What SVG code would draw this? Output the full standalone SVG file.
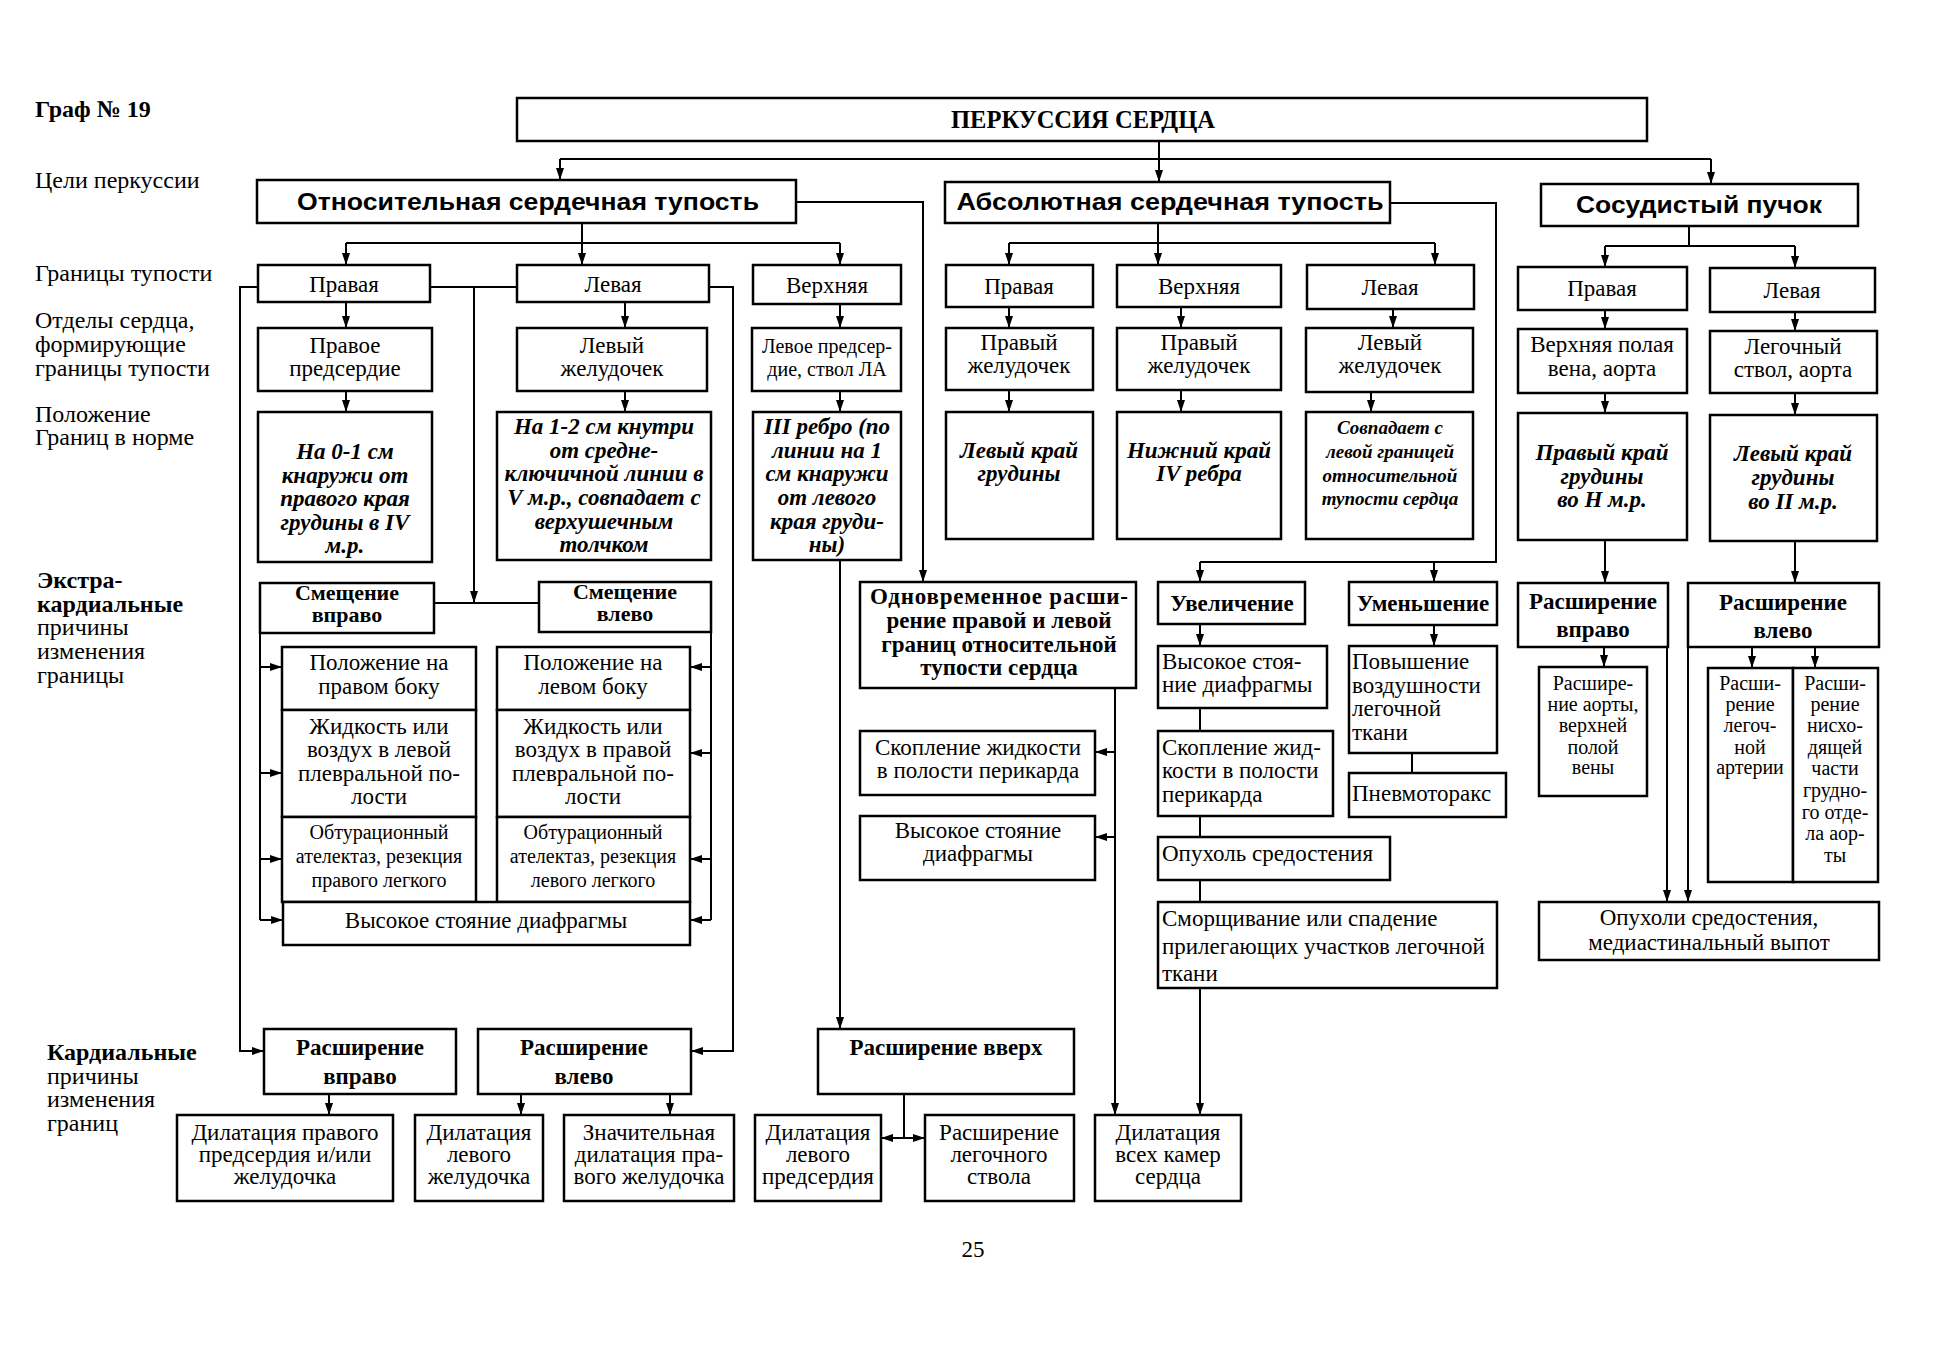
<svg xmlns="http://www.w3.org/2000/svg" width="1948" height="1350" viewBox="0 0 1948 1350">
<style>
.b{fill:#fff;stroke:#000;stroke-width:2.5}
.c{fill:none;stroke:#000;stroke-width:2}
.a{marker-end:url(#ar)}
text{font-family:"Liberation Serif","Times New Roman",serif;font-size:23px;fill:#000}
.m{text-anchor:middle}
.bd{font-weight:bold}
.bi{font-weight:bold;font-style:italic;font-size:23px}
.sm{font-size:20px}
.xs{font-size:19px}
.lb{font-size:24px}
.hv{font-family:"Liberation Sans",Arial,sans-serif;font-weight:bold;font-size:23px}
</style>
<defs>
<marker id="ar" viewBox="0 0 12 8" refX="12" refY="4" markerWidth="12" markerHeight="8" markerUnits="userSpaceOnUse" orient="auto"><path d="M0,0 L12,4 L0,8 z" fill="#000"/></marker>
</defs>
<rect width="1948" height="1350" fill="#fff"/>

<g id="labels">
<text class="bd lb" x="35" y="117">Граф № 19</text>
<text class="lb" x="35" y="188">Цели перкуссии</text>
<text class="lb" x="35" y="281">Границы тупости</text>
<text class="lb" x="35" y="328">Отделы сердца,</text>
<text class="lb" x="35" y="352">формирующие</text>
<text class="lb" x="35" y="376">границы тупости</text>
<text class="lb" x="35" y="422">Положение</text>
<text class="lb" x="35" y="445">Границ в норме</text>
<text class="bd lb" x="37" y="588">Экстра-</text>
<text class="bd lb" x="37" y="612">кардиальные</text>
<text class="lb" x="37" y="635">причины</text>
<text class="lb" x="37" y="659">изменения</text>
<text class="lb" x="37" y="683">границы</text>
<text class="bd lb" x="47" y="1060">Кардиальные</text>
<text class="lb" x="47" y="1084">причины</text>
<text class="lb" x="47" y="1107">изменения</text>
<text class="lb" x="47" y="1131">границ</text>
<text class="m" x="973" y="1257">25</text>
</g>

<g id="connectors">
<path class="c a" d="M1159,141 V182"/>
<path class="c" d="M560,159 H1711"/>
<path class="c a" d="M560,159 V180"/>
<path class="c a" d="M1711,159 V184"/>
<path class="c a" d="M582,223 V265"/>
<path class="c" d="M346,243 H840"/>
<path class="c a" d="M346,243 V265"/>
<path class="c a" d="M840,243 V265"/>
<path class="c a" d="M346,302 V328"/>
<path class="c a" d="M625,302 V328"/>
<path class="c a" d="M840,304 V328"/>
<path class="c a" d="M346,391 V412"/>
<path class="c a" d="M625,391 V412"/>
<path class="c a" d="M840,391 V412"/>
<path class="c a" d="M258,287 H240 V1051 H264"/>
<path class="c" d="M430,287 H517"/>
<path class="c a" d="M474,287 V603"/>
<path class="c" d="M434,603 H539"/>
<path class="c a" d="M709,287 H733 V1051 H691"/>
<path class="c a" d="M796,202 H923 V582"/>
<path class="c a" d="M840,560 V1029"/>
<path class="c" d="M260,633 V920"/>
<path class="c a" d="M260,667 H282"/>
<path class="c a" d="M260,773 H282"/>
<path class="c a" d="M260,859 H282"/>
<path class="c a" d="M260,920 H283"/>
<path class="c" d="M711,632 V920"/>
<path class="c a" d="M711,667 H690"/>
<path class="c a" d="M711,753 H690"/>
<path class="c a" d="M711,859 H690"/>
<path class="c a" d="M711,920 H690"/>
<path class="c a" d="M329,1094 V1115"/>
<path class="c a" d="M521,1094 V1115"/>
<path class="c a" d="M670,1094 V1115"/>
<path class="c" d="M904,1094 V1138"/>
<path class="c a" d="M904,1138 H881"/>
<path class="c a" d="M904,1138 H925"/>
<path class="c a" d="M1158,223 V265"/>
<path class="c" d="M1009,243 H1435"/>
<path class="c a" d="M1009,243 V265"/>
<path class="c a" d="M1435,243 V265"/>
<path class="c a" d="M1009,307 V328"/>
<path class="c a" d="M1181,307 V328"/>
<path class="c a" d="M1393,309 V328"/>
<path class="c a" d="M1009,390 V412"/>
<path class="c a" d="M1181,390 V412"/>
<path class="c a" d="M1371,392 V412"/>
<path class="c" d="M1390,203 H1496 V562 H1200"/>
<path class="c a" d="M1200,562 V582"/>
<path class="c a" d="M1434,562 V582"/>
<path class="c a" d="M1200,624 V646"/>
<path class="c" d="M1200,708 V731"/>
<path class="c" d="M1200,816 V837"/>
<path class="c" d="M1200,880 V902"/>
<path class="c a" d="M1200,988 V1115"/>
<path class="c a" d="M1434,625 V646"/>
<path class="c" d="M1412,753 V773"/>
<path class="c a" d="M1115,688 V1115"/>
<path class="c a" d="M1115,752 H1095"/>
<path class="c a" d="M1115,837 H1095"/>
<path class="c" d="M1689,226 V246"/>
<path class="c" d="M1605,246 H1795"/>
<path class="c a" d="M1605,246 V267"/>
<path class="c a" d="M1795,246 V268"/>
<path class="c a" d="M1605,310 V329"/>
<path class="c a" d="M1795,312 V331"/>
<path class="c a" d="M1605,393 V413"/>
<path class="c a" d="M1795,393 V415"/>
<path class="c a" d="M1605,540 V583"/>
<path class="c a" d="M1795,541 V583"/>
<path class="c a" d="M1604,647 V667"/>
<path class="c a" d="M1752,647 V668"/>
<path class="c a" d="M1815,647 V668"/>
<path class="c a" d="M1667,647 V902"/>
<path class="c a" d="M1688,647 V902"/>
</g>

<g id="n-top"><rect class="b" x="517" y="98" width="1130" height="43"/><text class="m bd" x="1083" y="128" style="font-size:24.5px">ПЕРКУССИЯ СЕРДЦА</text></g>

<g id="n-rel"><rect class="b" x="257" y="180" width="539" height="43"/><text class="m hv" x="528" y="210" textLength="462" lengthAdjust="spacingAndGlyphs">Относительная сердечная тупость</text></g>
<g id="n-rel-r"><rect class="b" x="258" y="265" width="172" height="37"/><text class="m" x="344" y="292">Правая</text></g>
<g id="n-rel-l"><rect class="b" x="517" y="265" width="192" height="37"/><text class="m" x="613" y="292">Левая</text></g>
<g id="n-rel-u"><rect class="b" x="753" y="265" width="148" height="39"/><text class="m" x="827" y="293">Верхняя</text></g>
<g id="n-rel-r2"><rect class="b" x="258" y="328" width="174" height="63"/><text class="m" x="345" y="353">Правое</text><text class="m" x="345" y="376">предсердие</text></g>
<g id="n-rel-l2"><rect class="b" x="517" y="328" width="190" height="63"/><text class="m" x="612" y="353">Левый</text><text class="m" x="612" y="376">желудочек</text></g>
<g id="n-rel-u2"><rect class="b" x="752" y="328" width="149" height="63"/><text class="m sm" x="827" y="353">Левое предсер-</text><text class="m sm" x="827" y="376">дие, ствол ЛА</text></g>
<g id="n-rel-r3"><rect class="b" x="258" y="412" width="174" height="150"/>
<text class="m bi" x="345" y="459">На 0-1 см</text><text class="m bi" x="345" y="483">кнаружи от</text><text class="m bi" x="345" y="506">правого края</text><text class="m bi" x="345" y="530">грудины в IV</text><text class="m bi" x="345" y="553">м.р.</text></g>
<g id="n-rel-l3"><rect class="b" x="497" y="412" width="214" height="148"/>
<text class="m bi" x="604" y="434">На 1-2 см кнутри</text><text class="m bi" x="604" y="458">от средне-</text><text class="m bi" x="604" y="481">ключичной линии в</text><text class="m bi" x="604" y="505">V м.р., совпадает с</text><text class="m bi" x="604" y="529">верхушечным</text><text class="m bi" x="604" y="552">толчком</text></g>
<g id="n-rel-u3"><rect class="b" x="753" y="412" width="148" height="148"/>
<text class="m bi" x="827" y="434">III ребро (по</text><text class="m bi" x="827" y="458">линии на 1</text><text class="m bi" x="827" y="481">см кнаружи</text><text class="m bi" x="827" y="505">от левого</text><text class="m bi" x="827" y="529">края груди-</text><text class="m bi" x="827" y="552">ны)</text></g>

<g id="n-shr"><rect class="b" x="260" y="583" width="174" height="50"/><text class="m bd" x="347" y="600" style="font-size:22px">Смещение</text><text class="m bd" x="347" y="622" style="font-size:22px">вправо</text></g>
<g id="n-shl"><rect class="b" x="539" y="582" width="172" height="50"/><text class="m bd" x="625" y="599" style="font-size:22px">Смещение</text><text class="m bd" x="625" y="621" style="font-size:22px">влево</text></g>

<g id="n-l1"><rect class="b" x="282" y="647" width="194" height="63"/><text class="m" x="379" y="670">Положение на</text><text class="m" x="379" y="694">правом боку</text></g>
<g id="n-l2"><rect class="b" x="282" y="710" width="194" height="107"/><text class="m" x="379" y="734">Жидкость или</text><text class="m" x="379" y="757">воздух в левой</text><text class="m" x="379" y="781">плевральной по-</text><text class="m" x="379" y="804">лости</text></g>
<g id="n-l3"><rect class="b" x="282" y="817" width="194" height="85"/><text class="m sm" x="379" y="839">Обтурационный</text><text class="m sm" x="379" y="863">ателектаз, резекция</text><text class="m sm" x="379" y="887">правого легкого</text></g>
<g id="n-r1"><rect class="b" x="497" y="647" width="193" height="63"/><text class="m" x="593" y="670">Положение на</text><text class="m" x="593" y="694">левом боку</text></g>
<g id="n-r2"><rect class="b" x="497" y="710" width="193" height="107"/><text class="m" x="593" y="734">Жидкость или</text><text class="m" x="593" y="757">воздух в правой</text><text class="m" x="593" y="781">плевральной по-</text><text class="m" x="593" y="804">лости</text></g>
<g id="n-r3"><rect class="b" x="497" y="817" width="193" height="85"/><text class="m sm" x="593" y="839">Обтурационный</text><text class="m sm" x="593" y="863">ателектаз, резекция</text><text class="m sm" x="593" y="887">левого легкого</text></g>
<g id="n-diaf"><rect class="b" x="283" y="902" width="407" height="43"/><text class="m" x="486" y="928">Высокое стояние диафрагмы</text></g>

<g id="n-crr"><rect class="b" x="264" y="1029" width="192" height="65"/><text class="m bd" x="360" y="1055">Расширение</text><text class="m bd" x="360" y="1084">вправо</text></g>
<g id="n-crl"><rect class="b" x="478" y="1029" width="213" height="65"/><text class="m bd" x="584" y="1055">Расширение</text><text class="m bd" x="584" y="1084">влево</text></g>
<g id="n-cru"><rect class="b" x="818" y="1029" width="256" height="65"/><text class="m bd" x="946" y="1055">Расширение вверх</text></g>
<g id="n-d1"><rect class="b" x="177" y="1115" width="216" height="86"/><text class="m" x="285" y="1140">Дилатация правого</text><text class="m" x="285" y="1162">предсердия и/или</text><text class="m" x="285" y="1184">желудочка</text></g>
<g id="n-d2"><rect class="b" x="415" y="1115" width="128" height="86"/><text class="m" x="479" y="1140">Дилатация</text><text class="m" x="479" y="1162">левого</text><text class="m" x="479" y="1184">желудочка</text></g>
<g id="n-d3"><rect class="b" x="564" y="1115" width="170" height="86"/><text class="m" x="649" y="1140">Значительная</text><text class="m" x="649" y="1162">дилатация пра-</text><text class="m" x="649" y="1184">вого желудочка</text></g>
<g id="n-d4"><rect class="b" x="755" y="1115" width="126" height="86"/><text class="m" x="818" y="1140">Дилатация</text><text class="m" x="818" y="1162">левого</text><text class="m" x="818" y="1184">предсердия</text></g>
<g id="n-d5"><rect class="b" x="925" y="1115" width="149" height="86"/><text class="m" x="999" y="1140">Расширение</text><text class="m" x="999" y="1162">легочного</text><text class="m" x="999" y="1184">ствола</text></g>
<g id="n-d6"><rect class="b" x="1095" y="1115" width="146" height="86"/><text class="m" x="1168" y="1140">Дилатация</text><text class="m" x="1168" y="1162">всех камер</text><text class="m" x="1168" y="1184">сердца</text></g>

<g id="n-abs"><rect class="b" x="945" y="182" width="445" height="41"/><text class="m hv" x="1170" y="210" textLength="427" lengthAdjust="spacingAndGlyphs">Абсолютная сердечная тупость</text></g>
<g id="n-abs-r"><rect class="b" x="946" y="265" width="147" height="42"/><text class="m" x="1019" y="294">Правая</text></g>
<g id="n-abs-u"><rect class="b" x="1117" y="265" width="164" height="42"/><text class="m" x="1199" y="294">Верхняя</text></g>
<g id="n-abs-l"><rect class="b" x="1307" y="265" width="167" height="44"/><text class="m" x="1390" y="295">Левая</text></g>
<g id="n-abs-r2"><rect class="b" x="946" y="328" width="147" height="62"/><text class="m" x="1019" y="350">Правый</text><text class="m" x="1019" y="373">желудочек</text></g>
<g id="n-abs-u2"><rect class="b" x="1117" y="328" width="164" height="62"/><text class="m" x="1199" y="350">Правый</text><text class="m" x="1199" y="373">желудочек</text></g>
<g id="n-abs-l2"><rect class="b" x="1306" y="328" width="167" height="64"/><text class="m" x="1390" y="350">Левый</text><text class="m" x="1390" y="373">желудочек</text></g>
<g id="n-abs-r3"><rect class="b" x="946" y="412" width="147" height="127"/><text class="m bi" x="1019" y="458">Левый край</text><text class="m bi" x="1019" y="481">грудины</text></g>
<g id="n-abs-u3"><rect class="b" x="1117" y="412" width="164" height="127"/><text class="m bi" x="1199" y="458">Нижний край</text><text class="m bi" x="1199" y="481">IV ребра</text></g>
<g id="n-abs-l3"><rect class="b" x="1306" y="412" width="167" height="127"/><text class="m bi xs" x="1390" y="434">Совпадает с</text><text class="m bi xs" x="1390" y="458">левой границей</text><text class="m bi xs" x="1390" y="482">относительной</text><text class="m bi xs" x="1390" y="505">тупости сердца</text></g>

<g id="n-odn"><rect class="b" x="860" y="582" width="276" height="106"/><text class="m bd" x="999" y="604" textLength="258" lengthAdjust="spacing">Одновременное расши-</text><text class="m bd" x="999" y="628">рение правой и левой</text><text class="m bd" x="999" y="652">границ относительной</text><text class="m bd" x="999" y="675">тупости сердца</text></g>
<g id="n-skop1"><rect class="b" x="860" y="731" width="235" height="64"/><text class="m" x="978" y="755">Скопление жидкости</text><text class="m" x="978" y="778">в полости перикарда</text></g>
<g id="n-vys1"><rect class="b" x="860" y="816" width="235" height="64"/><text class="m" x="978" y="838">Высокое стояние</text><text class="m" x="978" y="861">диафрагмы</text></g>
<g id="n-uvel"><rect class="b" x="1158" y="582" width="147" height="42"/><text class="m bd" x="1232" y="611">Увеличение</text></g>
<g id="n-umen"><rect class="b" x="1349" y="582" width="148" height="43"/><text class="m bd" x="1423" y="611">Уменьшение</text></g>
<g id="n-vys2"><rect class="b" x="1158" y="646" width="169" height="62"/><text x="1162" y="669">Высокое стоя-</text><text x="1162" y="692">ние диафрагмы</text></g>
<g id="n-skop2"><rect class="b" x="1158" y="731" width="175" height="85"/><text x="1162" y="755">Скопление жид-</text><text x="1162" y="778">кости в полости</text><text x="1162" y="802">перикарда</text></g>
<g id="n-opux"><rect class="b" x="1158" y="837" width="232" height="43"/><text x="1162" y="861">Опухоль средостения</text></g>
<g id="n-smor"><rect class="b" x="1158" y="902" width="339" height="86"/><text x="1162" y="926">Сморщивание или спадение</text><text x="1162" y="954">прилегающих участков легочной</text><text x="1162" y="981">ткани</text></g>
<g id="n-pov"><rect class="b" x="1349" y="646" width="148" height="107"/><text x="1352" y="669">Повышение</text><text x="1352" y="693">воздушности</text><text x="1352" y="716">легочной</text><text x="1352" y="740">ткани</text></g>
<g id="n-pnev"><rect class="b" x="1349" y="773" width="157" height="44"/><text x="1352" y="801">Пневмоторакс</text></g>

<g id="n-vas"><rect class="b" x="1541" y="184" width="317" height="42"/><text class="m hv" x="1699" y="213" textLength="246" lengthAdjust="spacingAndGlyphs">Сосудистый пучок</text></g>
<g id="n-vas-r"><rect class="b" x="1518" y="267" width="169" height="43"/><text class="m" x="1602" y="296">Правая</text></g>
<g id="n-vas-l"><rect class="b" x="1710" y="268" width="165" height="44"/><text class="m" x="1792" y="298">Левая</text></g>
<g id="n-vas-r2"><rect class="b" x="1518" y="329" width="169" height="64"/><text class="m" x="1602" y="352">Верхняя полая</text><text class="m" x="1602" y="376">вена, аорта</text></g>
<g id="n-vas-l2"><rect class="b" x="1710" y="331" width="167" height="62"/><text class="m" x="1793" y="354">Легочный</text><text class="m" x="1793" y="377">ствол, аорта</text></g>
<g id="n-vas-r3"><rect class="b" x="1518" y="413" width="169" height="127"/><text class="m bi" x="1602" y="460">Правый край</text><text class="m bi" x="1602" y="484">грудины</text><text class="m bi" x="1602" y="507">во Н м.р.</text></g>
<g id="n-vas-l3"><rect class="b" x="1710" y="415" width="167" height="126"/><text class="m bi" x="1793" y="461">Левый край</text><text class="m bi" x="1793" y="485">грудины</text><text class="m bi" x="1793" y="509">во II м.р.</text></g>
<g id="n-vas-r4"><rect class="b" x="1518" y="583" width="150" height="64"/><text class="m bd" x="1593" y="609">Расширение</text><text class="m bd" x="1593" y="637">вправо</text></g>
<g id="n-vas-l4"><rect class="b" x="1688" y="583" width="191" height="64"/><text class="m bd" x="1783" y="610">Расширение</text><text class="m bd" x="1783" y="638">влево</text></g>
<g id="n-vas-r5"><rect class="b" x="1539" y="667" width="108" height="129"/><text class="m sm" x="1593" y="690">Расшире-</text><text class="m sm" x="1593" y="711">ние аорты,</text><text class="m sm" x="1593" y="732">верхней</text><text class="m sm" x="1593" y="754">полой</text><text class="m sm" x="1593" y="774">вены</text></g>
<g id="n-vas-l5a"><rect class="b" x="1708" y="668" width="85" height="214"/><text class="m sm" x="1750" y="690">Расши-</text><text class="m sm" x="1750" y="711">рение</text><text class="m sm" x="1750" y="732">легоч-</text><text class="m sm" x="1750" y="754">ной</text><text class="m sm" x="1750" y="774">артерии</text></g>
<g id="n-vas-l5b"><rect class="b" x="1793" y="668" width="85" height="214"/><text class="m sm" x="1835" y="690">Расши-</text><text class="m sm" x="1835" y="711">рение</text><text class="m sm" x="1835" y="732">нисхо-</text><text class="m sm" x="1835" y="754">дящей</text><text class="m sm" x="1835" y="775">части</text><text class="m sm" x="1835" y="797">грудно-</text><text class="m sm" x="1835" y="819">го отде-</text><text class="m sm" x="1835" y="840">ла аор-</text><text class="m sm" x="1835" y="862">ты</text></g>
<g id="n-vas-opux"><rect class="b" x="1539" y="902" width="340" height="58"/><text class="m" x="1709" y="925">Опухоли средостения,</text><text class="m" x="1709" y="950">медиастинальный выпот</text></g>
</svg>
